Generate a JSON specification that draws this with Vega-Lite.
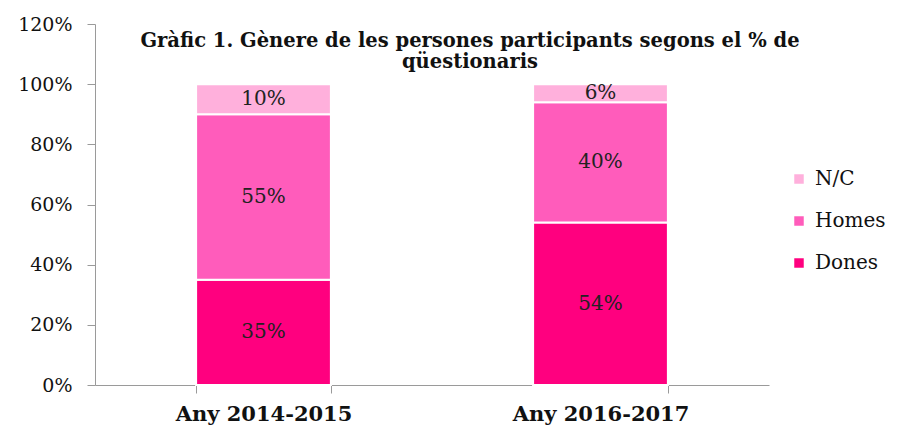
{
  "$schema": "https://vega.github.io/schema/vega-lite/v6.json",
  "autosize": "none",
  "width": 674,
  "height": 361,
  "padding": {"left": 95, "top": 24, "right": 139, "bottom": 45},
  "background": "white",
  "view": {"stroke": null},
  "title": {
    "text": ["Gràfic 1. Gènere de les persones  participants segons el % de", "qüestionaris"],
    "anchor": "middle",
    "frame": "group",
    "font": "DejaVu Serif",
    "fontSize": 19.5,
    "fontWeight": "bold",
    "color": "#111",
    "lineHeight": 21,
    "dx": 38,
    "dy": 57,
    "offset": 0
  },
  "data": {
    "values": [
      {"any": "Any 2014-2015", "genere": "Dones", "ord": 1, "v": 0.35},
      {"any": "Any 2014-2015", "genere": "Homes", "ord": 2, "v": 0.55},
      {"any": "Any 2014-2015", "genere": "N/C", "ord": 3, "v": 0.10},
      {"any": "Any 2016-2017", "genere": "Dones", "ord": 1, "v": 0.54},
      {"any": "Any 2016-2017", "genere": "Homes", "ord": 2, "v": 0.40},
      {"any": "Any 2016-2017", "genere": "N/C", "ord": 3, "v": 0.06}
    ]
  },
  "encoding": {
    "x": {
      "field": "any",
      "type": "nominal",
      "title": null,
      "scale": {"paddingInner": 0.6, "paddingOuter": 0.3},
      "axis": {
        "labelAngle": 0,
        "labelFont": "DejaVu Serif",
        "labelFontSize": 21,
        "labelFontWeight": "bold",
        "labelColor": "#111",
        "labelPadding": 10,
        "tickBand": "extent",
        "tickSize": 8,
        "tickColor": "#9a9a9a",
        "domainColor": "#9a9a9a",
        "grid": false
      }
    }
  },
  "layer": [
    {
      "mark": {"type": "bar", "stroke": "white", "strokeWidth": 2},
      "encoding": {
        "y": {
          "field": "v",
          "type": "quantitative",
          "stack": "zero",
          "title": null,
          "scale": {"domain": [0, 1.2]},
          "axis": {
            "format": ".0%",
            "values": [0, 0.2, 0.4, 0.6, 0.8, 1.0, 1.2],
            "labelFont": "DejaVu Serif",
            "labelFontSize": 19,
            "labelColor": "#111",
            "labelPadding": 15,
            "tickSize": 8,
            "tickColor": "#9a9a9a",
            "domainColor": "#9a9a9a",
            "grid": false
          }
        },
        "color": {
          "field": "genere",
          "type": "nominal",
          "scale": {"domain": ["N/C", "Homes", "Dones"], "range": ["#FFB0DC", "#FF5CBB", "#FF007F"]},
          "legend": {
            "title": null,
            "orient": "none",
            "legendX": 694,
            "legendY": 145,
            "symbolType": "square",
            "symbolSize": 90,
            "symbolStrokeWidth": 0,
            "labelFont": "DejaVu Serif",
            "labelFontSize": 20,
            "labelColor": "#111",
            "rowPadding": 22,
            "labelOffset": 6
          }
        },
        "order": {"field": "ord", "type": "quantitative", "sort": "ascending"}
      }
    },
    {
      "transform": [
        {"stack": "v", "groupby": ["any"], "sort": [{"field": "ord", "order": "ascending"}], "as": ["v0", "v1"]},
        {"calculate": "(datum.v0 + datum.v1) / 2", "as": "mid"}
      ],
      "mark": {"type": "text", "font": "DejaVu Serif", "fontSize": 20, "color": "#222", "baseline": "middle"},
      "encoding": {
        "y": {"field": "mid", "type": "quantitative"},
        "text": {"field": "v", "type": "quantitative", "format": ".0%"}
      }
    }
  ]
}
